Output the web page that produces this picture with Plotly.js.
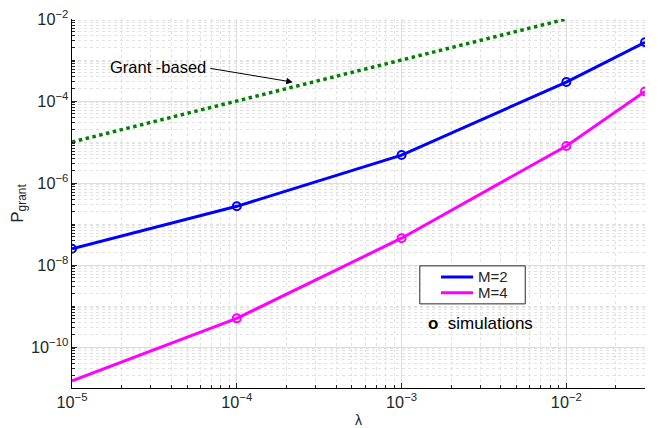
<!DOCTYPE html>
<html>
<head>
<meta charset="utf-8">
<script src="https://cdn.plot.ly/plotly-3.0.1.min.js"></script>
<style>html,body{margin:0;padding:0;background:#fff;}#chart{width:658px;height:428px;}</style>
</head>
<body>
<div id="chart"></div>
<script>
// Data
const lambdaVals = [1e-5, 1e-4, 1e-3, 1e-2, 3e-2];
const m2Vals = [2.5e-8, 2.7e-7, 4.8e-6, 2.9e-4, 2.7e-3];
const m4Vals = [1.5e-11, 5e-10, 4.5e-8, 8e-6, 1.7e-4];
const grantX = [1e-5, 1e-4, 1e-3, 1e-2];
const grantY = [1e-5, 1e-4, 1e-3, 1e-2];
const simM2X = [1e-5, 1e-4, 1e-3, 1e-2, 3e-2];
const simM2Y = [2.5e-8, 2.7e-7, 4.8e-6, 2.9e-4, 2.7e-3];
const simM4X = [1e-4, 1e-3, 1e-2, 3e-2];
const simM4Y = [5e-10, 4.5e-8, 8e-6, 1.7e-4];
const seriesNames = ['M=2', 'M=4'];
const seriesColors = ['#0000ff', '#ff00ff'];

const traces = [
  {x: grantX, y: grantY, mode: 'lines', line: {color: '#008000', width: 3.5, dash: 'dot'}, showlegend: false, hoverinfo: 'skip'},
  {x: lambdaVals, y: m2Vals, mode: 'lines', name: seriesNames[0], showlegend: false, line: {color: seriesColors[0], width: 3}},
  {x: lambdaVals, y: m4Vals, mode: 'lines', name: seriesNames[1], showlegend: false, line: {color: seriesColors[1], width: 3}},
  {x: simM2X, y: simM2Y, mode: 'markers', showlegend: false, marker: {symbol: 'circle-open', size: 8, color: seriesColors[0], line: {width: 2, color: seriesColors[0]}}},
  {x: simM4X, y: simM4Y, mode: 'markers', showlegend: false, marker: {symbol: 'circle-open', size: 8, color: seriesColors[1], line: {width: 2, color: seriesColors[1]}}}
];

const axisCommon = {
  type: 'log',
  showline: true, linecolor: '#000', linewidth: 1,
  ticks: 'inside', ticklen: 5, tickcolor: '#262626',
  showgrid: true, gridcolor: '#dedede', gridwidth: 1,
  zeroline: false,
  exponentformat: 'power',
  tickfont: {family: 'Liberation Sans, Arial, sans-serif', size: 13, color: '#262626'},
  minor: {dtick: 'D1', ticks: 'inside', ticklen: 3, tickcolor: '#262626', showgrid: true, gridcolor: '#e2e2e2', griddash: 'dot', gridwidth: 1}
};

// legend box (paper coordinates)
const lgX0 = 0.607, lgX1 = 0.791, lgY0 = 0.228, lgY1 = 0.331;
const lineX0 = 0.644, lineX1 = 0.700, textX = 0.705;
const rowY = [0.301, 0.258];

const shapes = [
  {type: 'rect', xref: 'paper', yref: 'paper', x0: lgX0, x1: lgX1, y0: lgY0, y1: lgY1,
   line: {color: '#262626', width: 1}, fillcolor: '#fff', layer: 'above'}
];
const annotations = [
  {x: -3.66, y: -3.54, xref: 'x', yref: 'y', ax: -84, ay: -14,
   text: '', showarrow: true, arrowhead: 2, arrowsize: 1.3, arrowwidth: 1, arrowcolor: '#000'},
  {x: -4.48, y: -3.18, xref: 'x', yref: 'y', text: 'Grant -based', showarrow: false,
   font: {size: 16.5, color: '#000'}, xanchor: 'center', yanchor: 'middle'},
  {xref: 'paper', yref: 'paper', x: 0.617, y: 0.176, xanchor: 'left', yanchor: 'middle', showarrow: false,
   text: '<b>o</b>  simulations', font: {size: 17, color: '#000'}}
];
seriesNames.forEach((n, i) => {
  shapes.push({type: 'line', xref: 'paper', yref: 'paper', x0: lineX0, x1: lineX1, y0: rowY[i], y1: rowY[i],
    line: {color: seriesColors[i], width: 3}, layer: 'above'});
  annotations.push({xref: 'paper', yref: 'paper', x: textX, y: rowY[i], xanchor: 'left', yanchor: 'middle',
    showarrow: false, text: n, font: {size: 15, color: '#262626'}});
});

const layout = {
  width: 658, height: 428,
  margin: {l: 72, r: 13, t: 19, b: 40},
  paper_bgcolor: '#fff', plot_bgcolor: '#fff',
  font: {family: 'Liberation Sans, Arial, sans-serif', size: 12, color: '#262626'},
  xaxis: Object.assign({}, axisCommon, {
    range: [-5, Math.log10(3e-2)], dtick: 1,
    title: {text: 'λ', standoff: 16, font: {size: 14, color: '#262626'}}
  }),
  yaxis: Object.assign({}, axisCommon, {
    range: [-11, -2], dtick: 2,
    title: {text: 'P<sub>grant</sub>', standoff: 3, font: {size: 17, color: '#262626'}}
  }),
  showlegend: false,
  shapes: shapes,
  annotations: annotations
};

Plotly.newPlot('chart', traces, layout, {displayModeBar: false, staticPlot: true});
</script>
</body>
</html>
